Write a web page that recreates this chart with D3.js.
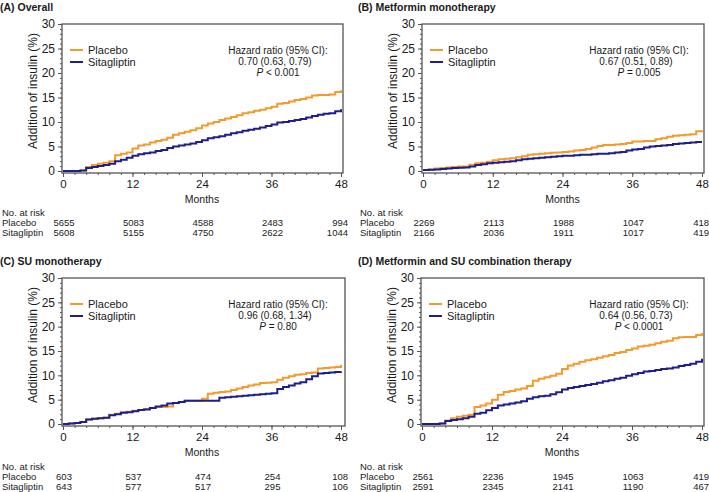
<!DOCTYPE html>
<html><head><meta charset="utf-8">
<script src="https://cdn.jsdelivr.net/npm/d3@7"></script>
<style>
body{margin:0;background:#fff}
svg{display:block}
text{font-family:"Liberation Sans",Arial,sans-serif;fill:#1a1a1a}
</style>
</head><body><svg id="c" width="709" height="492"></svg>
<script>
// ---------- DATA ----------
const months = [0,1,2,3,4,5,6,7,8,9,10,11,12,13,14,15,16,17,18,19,20,21,22,23,24,25,26,27,28,29,30,31,32,33,34,35,36,37,38,39,40,41,42,43,44,45,46,47,48];
const xTicks = [0,12,24,36,48];
const yTicks = [0,5,10,15,20,25,30];
const seriesNames = ["Placebo","Sitagliptin"];
const panelTitles = ["(A) Overall","(B) Metformin monotherapy","(C) SU monotherapy","(D) Metformin and SU combination therapy"];

const placeboA = [0,0,0,0.1,0.8,1.2,1.5,1.7,2.0,3.2,3.5,3.8,4.6,5.2,5.4,5.8,6.1,6.4,6.8,7.4,7.7,8.0,8.3,8.7,9.3,9.7,10.0,10.4,10.7,11.0,11.4,11.8,12.0,12.3,12.5,12.8,13.1,13.7,13.9,14.2,14.5,14.7,15.0,15.4,15.5,15.5,15.6,16.1,16.5];
const sitaA    = [0,0,0,0.1,0.6,0.8,1.0,1.2,1.5,2.0,2.3,2.7,3.1,3.4,3.6,3.8,4.1,4.3,4.7,5.0,5.2,5.4,5.6,5.9,6.3,6.7,6.9,7.1,7.4,7.7,7.9,8.2,8.4,8.6,8.9,9.2,9.5,9.9,10.0,10.2,10.4,10.6,10.9,11.2,11.5,11.7,11.8,12.2,12.6];
const placeboB = [0.2,0.3,0.5,0.6,0.7,0.8,0.9,0.9,1.3,1.6,1.7,1.9,2.2,2.4,2.5,2.6,2.8,3.0,3.3,3.4,3.5,3.6,3.7,3.8,3.9,4.0,4.2,4.3,4.5,4.8,5.1,5.3,5.3,5.4,5.5,5.7,6.0,6.0,6.1,6.1,6.5,6.7,7.0,7.2,7.3,7.4,7.5,8.1,8.3];
const sitaB    = [0.2,0.25,0.3,0.4,0.5,0.6,0.65,0.7,0.9,1.2,1.4,1.6,1.7,1.8,1.9,2.0,2.2,2.4,2.5,2.6,2.7,2.8,2.9,3.0,3.1,3.1,3.2,3.3,3.3,3.4,3.5,3.5,3.6,3.8,3.9,4.2,4.4,4.5,4.8,5.0,5.1,5.2,5.3,5.5,5.6,5.7,5.8,5.9,5.9];
const placeboC = [0,0.1,0.2,0.4,0.9,1.1,1.2,1.3,1.9,2.1,2.4,2.5,2.7,2.9,3.1,3.3,3.5,3.5,3.6,4.3,4.5,4.8,4.8,4.8,5.2,6.2,6.4,6.6,6.7,7.0,7.3,7.6,7.9,8.1,8.4,8.5,8.6,9.1,9.5,9.8,10.1,10.2,10.5,10.6,11.4,11.5,11.6,11.7,12.2];
const sitaC    = [0,0.1,0.2,0.4,0.9,1.1,1.2,1.3,1.8,2.0,2.3,2.4,2.6,2.9,3.0,3.3,3.6,3.8,4.2,4.3,4.5,4.8,4.8,4.8,4.8,4.8,4.8,5.4,5.5,5.6,5.7,5.8,5.9,6.0,6.1,6.2,6.3,7.2,7.6,7.9,8.3,8.6,9.2,9.8,10.4,10.5,10.6,10.7,10.8];
const placeboD = [0,0,0,0.1,0.7,1.2,1.5,1.7,1.9,3.5,3.8,4.2,5.0,6.0,6.6,6.8,7.1,7.3,7.8,8.9,9.3,9.6,9.9,10.3,11.3,12.0,12.4,12.8,13.1,13.3,13.6,13.9,14.2,14.6,14.8,15.2,15.5,15.9,16.1,16.3,16.6,16.9,17.1,17.6,17.8,17.9,17.9,18.3,18.7];
const sitaD    = [0,0,0,0.1,0.6,0.8,1.0,1.2,1.5,2.1,2.3,2.8,3.3,3.8,4.0,4.2,4.4,4.7,5.2,5.5,5.7,5.8,6.1,6.5,7.1,7.4,7.6,7.8,8.0,8.2,8.5,8.8,9.0,9.3,9.5,9.9,10.2,10.5,10.8,10.9,11.1,11.3,11.4,11.6,11.9,12.1,12.4,12.8,13.4];

const riskPlaceboA = [5655,5083,4588,2483,994];
const riskSitaA    = [5608,5155,4750,2622,1044];
const riskPlaceboB = [2269,2113,1988,1047,418];
const riskSitaB    = [2166,2036,1911,1017,419];
const riskPlaceboC = [603,537,474,254,108];
const riskSitaC    = [643,577,517,295,106];
const riskPlaceboD = [2561,2236,1945,1063,419];
const riskSitaD    = [2591,2345,2141,1190,467];

const hrA = ["Hazard ratio (95% CI):","0.70 (0.63, 0.79)","< 0.001"];
const hrB = ["Hazard ratio (95% CI):","0.67 (0.51, 0.89)","= 0.005"];
const hrC = ["Hazard ratio (95% CI):","0.96 (0.68, 1.34)","= 0.80"];
const hrD = ["Hazard ratio (95% CI):","0.64 (0.56, 0.73)","< 0.0001"];

// ---------- LAYOUT ----------
const COL_P = "#f39a2c", COL_S = "#1e1e8c", FRAME = "#555";
const panels = [
  {title:panelTitles[0], pl:placeboA, si:sitaA, rp:riskPlaceboA, rs:riskSitaA, hr:hrA, x0:63, x48:341, fr:343, top:24, zero:171, tx:0, ty:0, ry:212},
  {title:panelTitles[1], pl:placeboB, si:sitaB, rp:riskPlaceboB, rs:riskSitaB, hr:hrB, x0:423, x48:702, fr:704, top:24, zero:171, tx:358, ty:0, ry:212},
  {title:panelTitles[2], pl:placeboC, si:sitaC, rp:riskPlaceboC, rs:riskSitaC, hr:hrC, x0:63, x48:341, fr:345, top:278, zero:424, tx:0, ty:254, ry:466},
  {title:panelTitles[3], pl:placeboD, si:sitaD, rp:riskPlaceboD, rs:riskSitaD, hr:hrD, x0:422, x48:702, fr:704, top:278, zero:424, tx:358, ty:254, ry:466}
];

const svg = d3.select("#c");

panels.forEach(p => {
  const g = svg.append("g");
  const x = d3.scaleLinear().domain([0,48]).range([p.x0, p.x48]);
  const y = d3.scaleLinear().domain([0,30]).range([p.zero, p.top]);
  const bottom = p.zero + 2;
  const left = p.x0 - 1;

  // title
  g.append("text").attr("x", p.tx).attr("y", p.ty + 11)
    .attr("font-size", 10.5).attr("font-weight", "bold").text(p.title);

  // minor ticks y
  g.append("g").attr("transform", `translate(${left},0)`)
    .call(d3.axisLeft(y).tickValues(d3.range(0,31,1)).tickSize(2).tickFormat(""))
    .call(a => { a.select(".domain").remove(); a.selectAll("line").attr("stroke", FRAME); });
  // major y
  g.append("g").attr("transform", `translate(${left},0)`)
    .call(d3.axisLeft(y).tickValues(yTicks).tickSize(4).tickPadding(3))
    .call(a => { a.select(".domain").remove(); a.selectAll("line").attr("stroke", FRAME);
      a.selectAll("text").attr("font-size", 12).attr("font-family", "Liberation Sans, Arial, sans-serif").attr("fill", "#1a1a1a"); });
  // minor x
  g.append("g").attr("transform", `translate(0,${bottom})`)
    .call(d3.axisBottom(x).tickValues(d3.range(0,49,2)).tickSize(2).tickFormat(""))
    .call(a => { a.select(".domain").remove(); a.selectAll("line").attr("stroke", FRAME); });
  // major x
  g.append("g").attr("transform", `translate(0,${bottom})`)
    .call(d3.axisBottom(x).tickValues(xTicks).tickSize(4).tickPadding(3))
    .call(a => { a.select(".domain").remove(); a.selectAll("line").attr("stroke", FRAME);
      a.selectAll("text").attr("font-size", 11.5).attr("font-family", "Liberation Sans, Arial, sans-serif").attr("fill", "#1a1a1a"); });

  // frame
  g.append("rect").attr("x", left).attr("y", p.top).attr("width", p.fr - left).attr("height", bottom - p.top)
    .attr("fill", "none").attr("stroke", FRAME).attr("stroke-width", 1.3);

  // y label
  g.append("text").attr("transform", `translate(${p.x0 - 30},${p.top + 67}) rotate(-90)`)
    .attr("text-anchor", "middle").attr("dominant-baseline", "central").attr("font-size", 12)
    .text("Addition of insulin (%)");

  // x label
  g.append("text").attr("x", (p.x0 + p.x48) / 2).attr("y", bottom + 30)
    .attr("text-anchor", "middle").attr("font-size", 10.5).text("Months");

  // curves
  const line = d3.line().x(d => x(d[0])).y(d => y(d[1])).curve(d3.curveStepAfter);
  g.append("path").datum(months.map((m,i) => [m, p.pl[i]])).attr("d", line)
    .attr("fill", "none").attr("stroke", COL_P).attr("stroke-width", 2);
  g.append("path").datum(months.map((m,i) => [m, p.si[i]])).attr("d", line)
    .attr("fill", "none").attr("stroke", COL_S).attr("stroke-width", 2);

  // legend
  [COL_P, COL_S].forEach((c, i) => {
    const ly = p.top + 26 + i * 12;
    g.append("line").attr("x1", p.x0 + 7).attr("x2", p.x0 + 20).attr("y1", ly).attr("y2", ly)
      .attr("stroke", c).attr("stroke-width", 2);
    g.append("text").attr("x", p.x0 + 25).attr("y", ly).attr("dominant-baseline", "central")
      .attr("font-size", 11).text(seriesNames[i]);
  });

  // hazard text
  const hx = p.x48 - 63;
  const hfs = 10;
  g.append("text").attr("x", hx).attr("y", p.top + 26.5).attr("text-anchor", "middle")
    .attr("dominant-baseline", "central").attr("font-size", hfs).text(p.hr[0]);
  g.append("text").attr("x", hx - 3).attr("y", p.top + 37.5).attr("text-anchor", "middle")
    .attr("dominant-baseline", "central").attr("font-size", hfs).text(p.hr[1]);
  const t3 = g.append("text").attr("x", hx).attr("y", p.top + 48).attr("text-anchor", "middle")
    .attr("dominant-baseline", "central").attr("font-size", hfs);
  t3.append("tspan").attr("font-style", "italic").text("P");
  t3.append("tspan").text(" " + p.hr[2]);

  // risk table
  const ry = p.ry;
  g.append("text").attr("x", p.tx + 2).attr("y", ry).attr("dominant-baseline", "central")
    .attr("font-size", 9.5).text("No. at risk");
  [p.rp, p.rs].forEach((arr, r) => {
    const yy = ry + 10.5 + r * 10;
    g.append("text").attr("x", p.tx + 2).attr("y", yy).attr("dominant-baseline", "central")
      .attr("font-size", 9.5).text(seriesNames[r]);
    arr.forEach((v, i) => {
      const last = i === arr.length - 1;
      g.append("text").attr("x", last ? x(xTicks[i]) + 7 : x(xTicks[i]) + 1).attr("y", yy)
        .attr("text-anchor", last ? "end" : "middle").attr("dominant-baseline", "central")
        .attr("font-size", 9.5).text(v);
    });
  });
});
</script>
</body></html>
